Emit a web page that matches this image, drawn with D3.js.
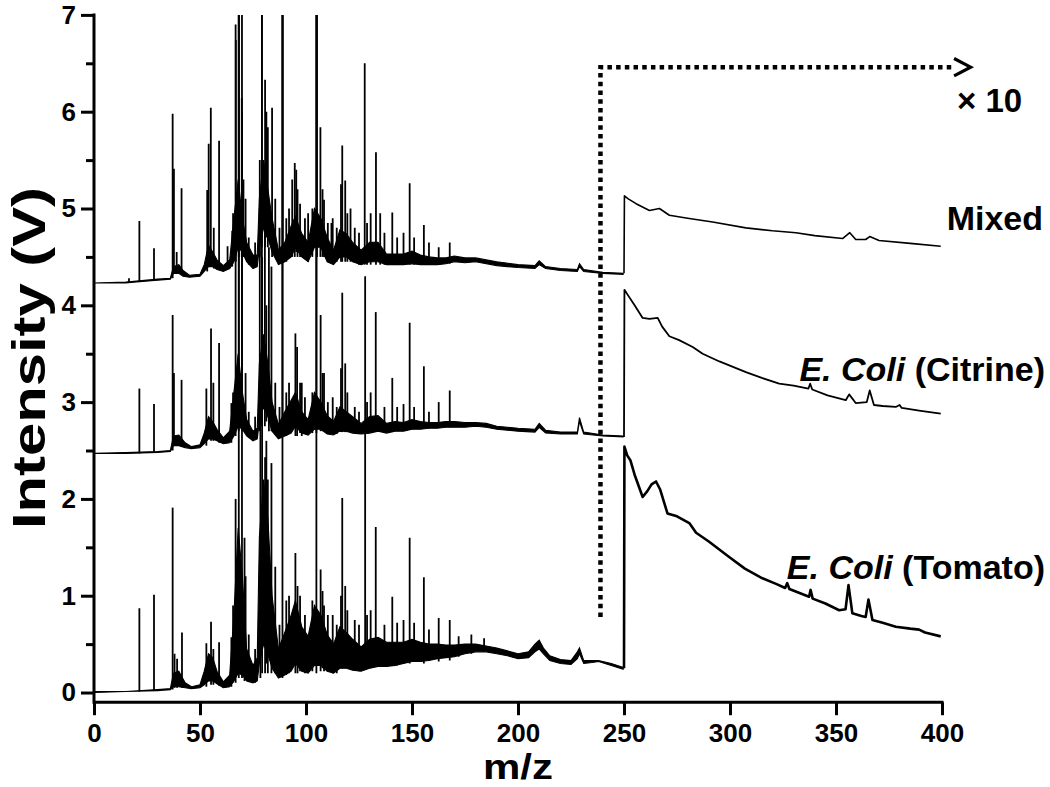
<!DOCTYPE html>
<html>
<head>
<meta charset="utf-8">
<script src="https://cdn.jsdelivr.net/npm/d3@7"></script>
<style>
  body { margin: 0; background: #fff; }
  text { font-family: "Liberation Sans", Arial, sans-serif; font-weight: bold; }
</style>
</head>
<body>
<script>
// ticks
var xTicks = [0, 50, 100, 150, 200, 250, 300, 350, 400];
var yTicks = [0, 1, 2, 3, 4, 5, 6, 7];
var yMinor = [0.5, 1.5, 2.5, 3.5, 4.5, 5.5, 6.5];

// trace labels
var labels = ["Mixed", "E. Coli (Citrine)", "E. Coli (Tomato)"];

// left part (m/z 0-250): noisy band [m/z, low, high]
var mixedBand = [[0,4.23,4.23],[15,4.23,4.24],[20,4.24,4.25],[30,4.26,4.27],[36,4.27,4.28],[37.5,4.33,4.40],[40,4.33,4.42],[42,4.30,4.36],[45,4.29,4.31],[50,4.30,4.32],[52,4.35,4.42],[54,4.40,4.62],[56,4.40,4.55],[58,4.37,4.47],[61,4.35,4.41],[64,4.38,4.47],[66,4.45,4.9],[68,4.6,5.3],[70,4.55,4.9],[72,4.45,4.65],[75,4.38,4.52],[77,4.40,4.52],[78,4.6,5.1],[80,4.8,5.5],[82,4.7,5.2],[84,4.55,4.9],[87,4.42,4.57],[90,4.45,4.65],[93,4.5,4.82],[95,4.6,4.92],[98,4.5,4.74],[101,4.45,4.65],[104,4.6,5.0],[107,4.6,4.9],[110,4.45,4.7],[113,4.42,4.57],[116,4.5,4.78],[119,4.5,4.74],[122,4.45,4.65],[126,4.42,4.57],[130,4.45,4.65],[134,4.45,4.65],[138,4.42,4.53],[142,4.42,4.53],[146,4.42,4.53],[150,4.43,4.56],[154,4.42,4.52],[158,4.42,4.5],[162,4.42,4.49],[166,4.43,4.49],[170,4.45,4.51],[175,4.44,4.49],[180,4.45,4.49],[190,4.41,4.45],[200,4.39,4.42],[208,4.38,4.41],[210,4.42,4.46],[213,4.38,4.40],[220,4.36,4.38],[228,4.35,4.37],[229,4.40,4.43],[231,4.35,4.37],[240,4.33,4.34],[249.6,4.32,4.33]];
var citrineBand = [[0,2.47,2.47],[15,2.47,2.48],[30,2.48,2.49],[36,2.49,2.50],[37.5,2.55,2.65],[40,2.55,2.66],[43,2.53,2.58],[46,2.52,2.54],[50,2.53,2.56],[52,2.57,2.68],[54,2.62,2.85],[56,2.62,2.8],[58,2.60,2.72],[61,2.57,2.63],[64,2.58,2.7],[66,2.65,3.1],[68,2.75,3.5],[70,2.72,3.1],[72,2.65,2.82],[75,2.6,2.7],[77,2.62,2.73],[78,2.8,3.4],[80,2.95,3.7],[82,2.85,3.4],[84,2.7,3.0],[87,2.62,2.77],[90,2.65,2.9],[93,2.68,3.02],[95,2.75,3.1],[98,2.68,2.9],[101,2.66,2.82],[104,2.72,3.1],[107,2.72,3.0],[110,2.67,2.86],[113,2.66,2.8],[116,2.7,2.95],[119,2.7,2.9],[122,2.68,2.85],[126,2.67,2.78],[130,2.68,2.85],[134,2.7,2.86],[138,2.68,2.78],[142,2.7,2.8],[146,2.7,2.79],[150,2.72,2.82],[154,2.72,2.8],[158,2.73,2.79],[162,2.73,2.79],[166,2.74,2.8],[170,2.74,2.8],[175,2.74,2.79],[180,2.75,2.79],[185,2.74,2.78],[190,2.72,2.75],[200,2.70,2.73],[208,2.69,2.72],[210,2.74,2.78],[213,2.68,2.71],[220,2.67,2.69],[228,2.67,2.69],[229,2.80,2.84],[231,2.67,2.69],[240,2.65,2.66],[249.6,2.64,2.65]];
var tomatoBand = [[0,0.0,0.01],[15,0.01,0.01],[30,0.02,0.03],[36,0.03,0.04],[37.5,0.06,0.2],[40,0.06,0.22],[43,0.05,0.1],[46,0.04,0.06],[50,0.05,0.08],[52,0.08,0.22],[54,0.12,0.4],[56,0.12,0.36],[58,0.09,0.22],[61,0.05,0.11],[64,0.06,0.18],[66,0.12,0.8],[68,0.2,1.7],[70,0.18,1.2],[72,0.12,0.45],[75,0.10,0.28],[77,0.12,0.36],[78,0.3,1.6],[80,0.5,2.2],[82,0.4,1.8],[84,0.25,1.0],[87,0.15,0.45],[90,0.18,0.62],[93,0.22,0.8],[95,0.3,0.95],[98,0.22,0.68],[101,0.2,0.58],[104,0.28,0.9],[107,0.28,0.8],[110,0.22,0.6],[113,0.2,0.5],[116,0.25,0.68],[119,0.25,0.62],[122,0.23,0.55],[126,0.22,0.47],[130,0.25,0.55],[134,0.27,0.57],[138,0.27,0.52],[142,0.28,0.52],[146,0.3,0.52],[150,0.32,0.55],[154,0.32,0.52],[158,0.33,0.5],[162,0.35,0.5],[166,0.36,0.49],[170,0.37,0.49],[175,0.4,0.5],[180,0.42,0.5],[185,0.42,0.48],[190,0.40,0.46],[195,0.38,0.43],[200,0.35,0.4],[205,0.36,0.42],[208,0.42,0.5],[210,0.45,0.54],[212,0.4,0.46],[215,0.33,0.38],[220,0.30,0.34],[225,0.29,0.33],[228,0.35,0.42],[229,0.40,0.46],[231,0.30,0.33],[235,0.31,0.33],[238,0.32,0.33],[244,0.28,0.30],[249.6,0.24,0.26]];

// sharp peaks [m/z, foot, apex]
var mixedPeaks = [[16.5,4.24,4.28],[21.4,4.24,4.87],[28.3,4.26,4.59],[37.1,4.28,5.98],[37.7,4.33,5.41],[39,4.33,4.55],[41.3,4.33,5.21],[53.4,4.35,5.19],[54.1,4.40,5.67],[55.1,4.40,6.04],[56.5,4.38,4.8],[59.0,4.37,5.70],[63.0,4.38,4.61],[65.2,4.40,4.77],[65.6,4.45,4.95],[66.9,4.45,6.74],[68.3,4.5,7.2],[69.7,4.5,6.14],[70.5,4.5,5.3],[71.5,4.5,5.1],[73,4.42,4.7],[76,4.4,4.65],[78.2,4.5,5.5],[79.2,4.6,7.2],[80.7,4.6,6.33],[81.3,4.7,6.0],[82.0,4.6,5.84],[84.0,4.5,6.04],[85.5,4.5,5.1],[87.5,4.45,4.8],[89.0,4.45,7.2],[90.7,4.45,4.9],[92,4.5,5.0],[93.5,4.5,5.3],[94.7,4.5,5.47],[95.4,4.55,5.4],[96,4.5,5.2],[97.2,4.5,5.05],[99.5,4.5,4.9],[101,4.45,4.95],[103,4.5,5.0],[105.2,4.5,7.2],[106.8,4.5,5.84],[107.8,4.5,5.2],[108.5,4.5,5.09],[110.3,4.45,4.85],[112,4.45,4.85],[112.6,4.45,4.9],[114.5,4.45,4.8],[116.5,4.45,5.25],[117.1,4.45,5.65],[118.5,4.45,5.29],[119.5,4.45,4.95],[121,4.45,5.0],[123,4.45,4.8],[125,4.42,4.75],[127.7,4.42,6.5],[128.8,4.42,4.85],[130.5,4.42,4.95],[133.0,4.42,5.58],[135,4.42,4.95],[137,4.42,4.75],[140.7,4.42,4.96],[143,4.42,4.7],[146,4.42,4.75],[148.9,4.42,5.26],[151,4.42,4.7],[155.6,4.42,4.83],[158,4.42,4.65],[162.6,4.42,4.6],[167.8,4.43,4.65]];
var citrinePeaks = [[21.4,2.47,3.14],[28.3,2.48,2.98],[37.1,2.5,3.9],[37.7,2.55,3.3],[41.3,2.55,3.23],[53.0,2.55,3.14],[55.2,2.6,3.76],[56.3,2.6,3.2],[59.0,2.58,3.61],[64.8,2.58,2.99],[65.6,2.65,3.1],[66.8,2.65,6.9],[68.3,2.7,7.2],[69.8,2.7,6.0],[71.5,2.7,3.3],[73,2.65,2.9],[76,2.62,2.85],[78.2,2.7,5.0],[79.2,2.75,7.2],[80.6,2.75,5.4],[81.3,2.8,4.0],[82.5,2.7,4.6],[83.7,2.7,4.4],[85.5,2.7,3.2],[87.5,2.65,2.95],[88.9,2.64,7.2],[90.7,2.65,3.1],[92,2.68,3.2],[95.0,2.65,3.71],[95.8,2.65,3.57],[97.2,2.68,3.2],[98,2.65,3.2],[99.5,2.67,3.05],[103,2.68,3.1],[104.9,2.68,7.2],[106.9,2.7,3.9],[107.8,2.7,3.3],[108.5,2.7,3.3],[110.3,2.68,3.0],[112.6,2.67,3.05],[114.5,2.67,2.95],[116.5,2.69,3.35],[117.1,2.69,4.13],[118.5,2.69,3.4],[119.5,2.69,3.1],[123,2.68,2.95],[125,2.67,2.9],[127.9,2.69,4.3],[128.8,2.69,3.0],[130.5,2.69,3.1],[132.9,2.7,3.93],[137,2.7,2.95],[140.7,2.72,3.25],[143,2.71,2.95],[146,2.71,2.98],[148.9,2.72,3.82],[151,2.72,2.95],[155.6,2.74,3.37],[158,2.73,2.9],[162.6,2.74,3.0],[167.8,2.74,3.12]];
var tomatoPeaks = [[21.4,0.01,0.87],[28.3,0.02,1.01],[37.1,0.03,1.91],[38,0.05,0.4],[39.2,0.05,0.35],[41.5,0.05,0.62],[53.0,0.06,0.51],[55.2,0.08,0.73],[56.3,0.08,0.45],[59.0,0.07,0.52],[64.8,0.06,0.57],[65.6,0.1,0.9],[66.8,0.1,2.0],[68.3,0.15,7.2],[69.8,0.15,7.2],[71,0.12,1.6],[71.5,0.15,1.2],[73,0.12,0.6],[76,0.1,0.45],[78.5,0.15,3.1],[79.3,0.2,4.5],[80.7,0.2,2.43],[81.3,0.3,2.6],[82,0.2,2.2],[83.7,0.2,2.37],[85.5,0.2,1.3],[87.5,0.15,0.7],[88.9,0.15,7.2],[90.7,0.18,0.95],[92,0.2,1.0],[95.0,0.2,1.44],[96,0.2,1.1],[97.2,0.22,1.0],[99.5,0.2,0.8],[103,0.22,0.95],[104.9,0.2,7.2],[106.9,0.22,1.27],[107.8,0.25,1.05],[108.5,0.22,0.9],[110.3,0.22,0.8],[112.6,0.2,0.8],[114.5,0.2,0.7],[116.5,0.25,1.0],[117.1,0.25,2.01],[118.5,0.25,1.1],[119.5,0.25,0.85],[123,0.23,0.75],[125,0.22,0.7],[127.9,0.27,2.7],[128.8,0.25,0.8],[130.5,0.25,0.85],[132.9,0.27,1.71],[137,0.27,0.7],[140.7,0.28,0.99],[143,0.28,0.72],[146,0.3,0.75],[148.9,0.3,1.6],[151,0.32,0.72],[155.6,0.3,1.19],[158,0.33,0.65],[162.6,0.32,0.77],[167.8,0.33,0.75],[172,0.37,0.58],[178,0.4,0.6],[184,0.42,0.56]];

// right part (m/z 250-400), plotted x10 [m/z, value]
var mixedRight = [[250,4.33],[250.2,5.13],[252,5.10],[255.7,5.05],[262,4.98],[266.7,5.0],[271.4,4.93],[280,4.90],[291.8,4.86],[307.5,4.80],[320,4.77],[331.1,4.75],[340,4.72],[353.1,4.69],[356.5,4.75],[359.3,4.68],[364,4.68],[365.9,4.71],[370.3,4.67],[385,4.64],[399.4,4.61]];
var citrineRight = [[250,2.64],[250.2,4.16],[252,4.10],[255,4.00],[258.8,3.87],[262,3.86],[265.9,3.87],[268,3.78],[271.4,3.68],[276,3.64],[282.4,3.57],[287.1,3.50],[295,3.42],[307.5,3.31],[315,3.25],[323.2,3.19],[330,3.17],[337,3.14],[337.8,3.19],[338.8,3.13],[346,3.07],[354.6,3.02],[356.2,3.08],[359.3,2.99],[364.5,3.00],[365.9,3.12],[367.9,2.97],[372,2.96],[378.2,2.95],[380,2.97],[381,2.94],[390,2.91],[399.4,2.88]];
var tomatoRight = [[250,0.25],[250.2,2.54],[251.5,2.45],[253,2.40],[255,2.25],[258.8,2.02],[261,2.08],[263,2.15],[265.1,2.18],[267,2.10],[270.5,1.85],[275,1.82],[280.8,1.75],[284,1.65],[290,1.56],[299.6,1.40],[307,1.28],[315.3,1.18],[322,1.12],[326,1.08],[327,1.13],[328,1.07],[337.3,0.99],[338,1.06],[339,0.97],[345,0.92],[351.5,0.85],[354.5,0.86],[355.9,1.11],[357.7,0.82],[362,0.79],[364,0.78],[365.3,0.96],[367.2,0.75],[372,0.72],[378.2,0.68],[385,0.66],[389.2,0.65],[392,0.62],[399.4,0.58]];

// x10 marker
var markerPath = [[238.9,0.78],[238.9,6.46],[405,6.46]];
var markerHead = [[405.7,6.55],[413.5,6.46],[405.7,6.37]];

var width = 1050, height = 787;

var svg = d3.select("body").append("svg")
    .attr("width", width)
    .attr("height", height);

var x = d3.scaleLinear().domain([0, 400]).range([94, 942]);
var y = d3.scaleLinear().domain([-0.1, 7]).range([702.2, 14.9]);

svg.append("clipPath").attr("id", "plot")
    .append("rect")
    .attr("x", 94).attr("y", y(7))
    .attr("width", 860).attr("height", y(-0.1) - y(7));

var g = svg.append("g").attr("clip-path", "url(#plot)");

var band = d3.area()
    .x(function (d) { return x(d[0]); })
    .y0(function (d) { return y(d[1]); })
    .y1(function (d) { return y(d[2]); });

var line = d3.line()
    .x(function (d) { return x(d[0]); })
    .y(function (d) { return y(d[1]); });

var traces = [
    { band: mixedBand, peaks: mixedPeaks, right: mixedRight, w: 1.6 },
    { band: citrineBand, peaks: citrinePeaks, right: citrineRight, w: 1.8 },
    { band: tomatoBand, peaks: tomatoPeaks, right: tomatoRight, w: 2.6 }
];

traces.forEach(function (t) {
    g.append("path")
        .attr("d", band(t.band))
        .attr("fill", "#000")
        .attr("stroke", "#000")
        .attr("stroke-width", 1.1);

    g.selectAll(null)
        .data(t.peaks)
        .enter().append("line")
        .attr("x1", function (d) { return x(d[0]); })
        .attr("x2", function (d) { return x(d[0]); })
        .attr("y1", function (d) { return y(d[1]); })
        .attr("y2", function (d) { return y(d[2]); })
        .attr("stroke", "#000")
        .attr("stroke-width", 1.8);

    g.append("path")
        .attr("d", line(t.right))
        .attr("fill", "none")
        .attr("stroke", "#000")
        .attr("stroke-width", t.w)
        .attr("stroke-linejoin", "round");
});

// axes
var yAxis = d3.axisLeft(y).tickValues(yTicks).tickSize(13).tickPadding(5).tickFormat(d3.format("d"));
var yAxisMinor = d3.axisLeft(y).tickValues(yMinor).tickSize(8).tickFormat("");
var xAxis = d3.axisBottom(x).tickValues(xTicks).tickSize(13).tickPadding(8).tickFormat(d3.format("d"));

function styleAxis(sel) {
    sel.select(".domain").remove();
    sel.selectAll("line").attr("stroke", "#000").attr("stroke-width", 3);
    sel.selectAll("text").attr("fill", "#000").style("font-size", "26px");
}

svg.append("g").attr("transform", "translate(94,0)").call(yAxis).call(styleAxis);
svg.append("g").attr("transform", "translate(94,0)").call(yAxisMinor).call(styleAxis);
svg.append("g").attr("transform", "translate(0,702.2)").call(xAxis).call(styleAxis);

svg.append("line")
    .attr("x1", 94).attr("x2", 94).attr("y1", y(7) - 1.5).attr("y2", y(-0.1) + 1.5)
    .attr("stroke", "#000").attr("stroke-width", 3);
svg.append("line")
    .attr("x1", 94).attr("x2", 943.5).attr("y1", y(-0.1)).attr("y2", y(-0.1))
    .attr("stroke", "#000").attr("stroke-width", 3);

// axis titles
svg.append("text")
    .attr("x", 518).attr("y", 779)
    .attr("text-anchor", "middle")
    .attr("textLength", 70)
    .attr("lengthAdjust", "spacingAndGlyphs")
    .style("font-size", "35px")
    .text("m/z");

svg.append("text")
    .attr("transform", "translate(45,358) rotate(-90)")
    .attr("text-anchor", "middle")
    .attr("textLength", 342)
    .attr("lengthAdjust", "spacingAndGlyphs")
    .style("font-size", "46px")
    .text("Intensity (V)");

// x10 marker
svg.append("path")
    .attr("d", line(markerPath))
    .attr("fill", "none")
    .attr("stroke", "#000")
    .attr("stroke-width", 4.5)
    .attr("stroke-dasharray", "4.5,4.2");
svg.append("path")
    .attr("d", line(markerHead))
    .attr("fill", "none")
    .attr("stroke", "#000")
    .attr("stroke-width", 3.2);
svg.append("text")
    .attr("x", 957).attr("y", 112)
    .style("font-size", "33px")
    .text("\u00d7 10");

// trace labels
var labelPos = [[1043, 230], [1045, 381], [1045, 579]];
labels.forEach(function (s, i) {
    var t = svg.append("text")
        .attr("x", labelPos[i][0]).attr("y", labelPos[i][1])
        .attr("text-anchor", "end")
        .style("font-size", "34px");
    if (i === 0) {
        t.text(s);
    } else {
        var parts = s.split(" (");
        t.append("tspan").style("font-style", "italic").text(parts[0]);
        t.append("tspan").text(" (" + parts[1]);
    }
});
</script>
</body>
</html>
